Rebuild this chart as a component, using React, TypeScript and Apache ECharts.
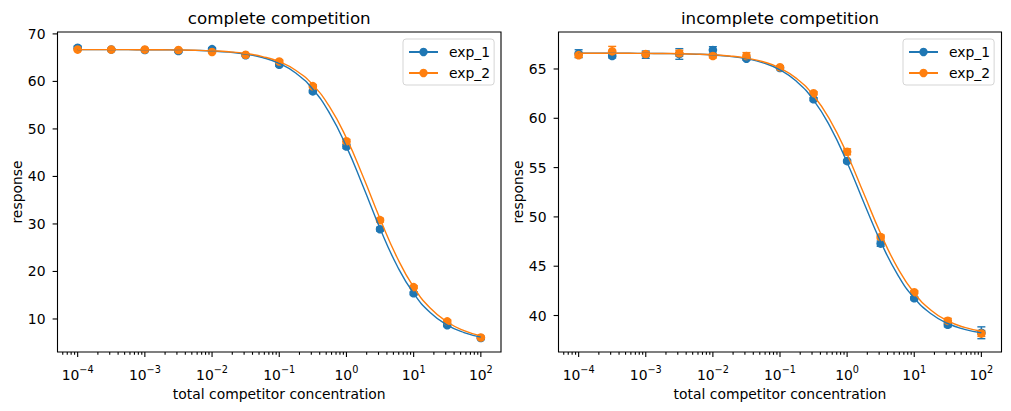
import React, { useEffect, useRef } from "react";
import * as echarts from "echarts";

const FONT = "DejaVu Sans";
const BLUE = "#1f77b4";
const ORANGE = "#ff7f0e";

// measured competitor concentrations (half-decade dilution series)
const concentrations = [1e-4, 3.162e-4, 1e-3, 3.162e-3, 1e-2, 3.162e-2, 0.1, 0.3162, 1, 3.162, 10, 31.62, 100];

// complete competition: mean responses and their errors
const completeExp1 = [67.1, 66.7, 66.6, 66.4, 66.8, 65.5, 63.5, 57.9, 46.3, 28.9, 15.4, 8.7, 6.0];
const completeExp2 = [66.7, 66.7, 66.7, 66.6, 66.2, 65.6, 64.2, 59.0, 47.4, 30.8, 16.7, 9.5, 6.1];
const completeErr1 = [0.3, 0.2, 0.2, 0.3, 0.3, 0.2, 0.3, 0.3, 0.4, 0.4, 0.3, 0.3, 0.2];
const completeErr2 = [0.2, 0.2, 0.2, 0.2, 0.2, 0.2, 0.3, 0.3, 0.4, 0.4, 0.3, 0.3, 0.2];

// incomplete competition: mean responses and their errors
const incompleteExp1 = [66.55, 66.32, 66.45, 66.52, 66.92, 66.04, 65.1, 61.93, 55.66, 47.29, 41.75, 39.06, 38.25];
const incompleteExp2 = [66.4, 66.79, 66.52, 66.59, 66.32, 66.32, 65.17, 62.54, 56.6, 47.96, 42.36, 39.46, 38.18];
const incompleteErr1 = [0.4, 0.2, 0.37, 0.54, 0.34, 0.15, 0.1, 0.15, 0.15, 0.27, 0.15, 0.2, 0.6];
const incompleteErr2 = [0.2, 0.5, 0.2, 0.3, 0.2, 0.34, 0.15, 0.15, 0.3, 0.2, 0.15, 0.25, 0.3];

// fitted curves, sampled every quarter decade
const fitConcentrations = [
  1e-4, 1.778e-4, 3.162e-4, 5.623e-4, 1e-3, 1.778e-3, 3.162e-3, 5.623e-3, 1e-2, 1.778e-2, 3.162e-2, 5.623e-2,
  0.1, 0.1778, 0.3162, 0.5623, 1, 1.778, 3.162, 5.623, 10, 17.78, 31.62, 56.23, 100,
];
const completeFit1 = [
  66.7, 66.7, 66.69, 66.68, 66.67, 66.65, 66.6, 66.53, 66.4, 66.16, 65.75, 65.03, 63.79, 61.71, 58.35, 53.27, 46.27,
  37.82, 29.05, 21.31, 15.37, 11.3, 8.71, 7.14, 6.22,
];
const completeFit2 = [
  66.7, 66.7, 66.69, 66.68, 66.67, 66.65, 66.62, 66.55, 66.43, 66.23, 65.87, 65.23, 64.14, 62.29, 59.27, 54.62, 48.06,
  39.89, 31.09, 23.05, 16.7, 12.24, 9.37, 7.55, 6.45,
];
const incompleteFit1 = [
  66.6, 66.6, 66.59, 66.59, 66.58, 66.57, 66.54, 66.5, 66.42, 66.28, 66.04, 65.62, 64.91, 63.72, 61.85, 59.11, 55.52,
  51.44, 47.48, 44.18, 41.77, 40.18, 39.19, 38.6, 38.25,
];
const incompleteFit2 = [
  66.6, 66.6, 66.59, 66.59, 66.58, 66.57, 66.55, 66.51, 66.44, 66.32, 66.1, 65.73, 65.09, 64.02, 62.31, 59.77, 56.35,
  52.34, 48.31, 44.86, 42.28, 40.54, 39.45, 38.79, 38.41,
];

// axis ticks
const majorTicksX = [1e-4, 1e-3, 1e-2, 1e-1, 1, 10, 100];
const tickDecades = [1e-5, 1e-4, 1e-3, 1e-2, 1e-1, 1, 10, 100];
const minorMultipliers = [2, 3, 4, 5, 6, 7, 8, 9];
const completeTicksY = [10, 20, 30, 40, 50, 60, 70];
const incompleteTicksY = [40, 45, 50, 55, 60, 65];

const X_MIN = Math.pow(10, -4.3);
const X_MAX = Math.pow(10, 2.3);
const MAJOR_LEN = 4.9;
const MINOR_LEN = 2.8;
const TICK_W = 1.1;

const minorTicksX = tickDecades
  .flatMap((d) => minorMultipliers.map((m) => m * d))
  .filter((v) => v > X_MIN && v < X_MAX);

const panels = [
  {
    title: "complete competition",
    exp1: completeExp1,
    exp2: completeExp2,
    err1: completeErr1,
    err2: completeErr2,
    fit1: completeFit1,
    fit2: completeFit2,
    ticksY: completeTicksY,
    yMin: 3.05,
    yMax: 70.4,
    yStep: 10,
    gridLeft: 57.5,
    gridWidth: 443.5,
    legendLeft: 403,
  },
  {
    title: "incomplete competition",
    exp1: incompleteExp1,
    exp2: incompleteExp2,
    err1: incompleteErr1,
    err2: incompleteErr2,
    fit1: incompleteFit1,
    fit2: incompleteFit2,
    ticksY: incompleteTicksY,
    yMin: 36.3,
    yMax: 68.75,
    yStep: 5,
    gridLeft: 558.5,
    gridWidth: 443,
    legendLeft: 903,
  },
];

const GRID_TOP = 32;
const GRID_HEIGHT = 320;

const powLabel = (v: number) => {
  const e = Math.log10(v);
  const r = Math.round(e);
  if (Math.abs(e - r) > 1e-6) return "";
  const exp = (r < 0 ? "\u2212" : "") + Math.abs(r);
  return `{b|10}{e|${exp}}`;
};

const errorBarRender = (color: string) => (params: any, api: any) => {
  const x = api.value(0);
  const y = api.value(1);
  const e = api.value(2);
  const top = api.coord([x, y + e]);
  const bot = api.coord([x, y - e]);
  const w = 4;
  const style = { stroke: color, lineWidth: 1.4 };
  return {
    type: "group",
    children: [
      { type: "line", shape: { x1: top[0], y1: top[1], x2: bot[0], y2: bot[1] }, style },
      { type: "line", shape: { x1: top[0] - w, y1: top[1], x2: top[0] + w, y2: top[1] }, style },
      { type: "line", shape: { x1: bot[0] - w, y1: bot[1], x2: bot[0] + w, y2: bot[1] }, style },
    ],
  };
};

const xTickRender = (params: any, api: any) => {
  const cs = params.coordSys;
  const x = api.coord([api.value(0), api.value(1)])[0];
  const len = api.value(2);
  const yb = cs.y + cs.height;
  return {
    type: "line",
    shape: { x1: x, y1: yb, x2: x, y2: yb + len },
    style: { stroke: "#000", lineWidth: TICK_W },
  };
};

const yTickRender = (params: any, api: any) => {
  const cs = params.coordSys;
  const y = api.coord([api.value(0), api.value(1)])[1];
  return {
    type: "line",
    shape: { x1: cs.x - MAJOR_LEN, y1: y, x2: cs.x, y2: y },
    style: { stroke: "#000", lineWidth: TICK_W },
  };
};

function buildOption() {
  const grid: any[] = [];
  const xAxis: any[] = [];
  const yAxis: any[] = [];
  const title: any[] = [];
  const legend: any[] = [];
  const series: any[] = [];

  panels.forEach((p, i) => {
    grid.push({
      left: p.gridLeft,
      top: GRID_TOP,
      width: p.gridWidth,
      height: GRID_HEIGHT,
      show: true,
      borderColor: "#000",
      borderWidth: 1.1,
      backgroundColor: "transparent",
      outerBoundsMode: "none",
      containLabel: false,
    });
    title.push({
      text: p.title,
      left: p.gridLeft + p.gridWidth / 2,
      top: 9,
      textAlign: "center",
      padding: 0,
      textStyle: { fontFamily: FONT, fontSize: 16.7, fontWeight: "normal", color: "#000" },
    });
    xAxis.push({
      type: "log",
      logBase: 10,
      gridIndex: i,
      min: X_MIN,
      max: X_MAX,
      name: "total competitor concentration",
      nameLocation: "middle",
      nameGap: 33,
      nameTextStyle: { fontFamily: FONT, fontSize: 13.9, color: "#000" },
      axisLine: { show: false },
      axisTick: { show: false },
      splitLine: { show: false },
      minorTick: { show: false },
      axisLabel: {
        formatter: powLabel,
        margin: 12,
        color: "#000",
        showMinLabel: false,
        showMaxLabel: false,
        rich: {
          b: { fontFamily: FONT, fontSize: 13.9, color: "#000", lineHeight: 18, verticalAlign: "bottom" },
          e: { fontFamily: FONT, fontSize: 9.7, color: "#000", lineHeight: 8, verticalAlign: "top" },
        },
      },
    });
    yAxis.push({
      type: "value",
      gridIndex: i,
      min: p.yMin,
      max: p.yMax,
      name: "response",
      nameLocation: "middle",
      nameGap: 33,
      nameTextStyle: { fontFamily: FONT, fontSize: 13.9, color: "#000" },
      axisLine: { show: false },
      axisTick: { show: false },
      splitLine: { show: false },
      axisLabel: {
        margin: 12,
        color: "#000",
        fontFamily: FONT,
        fontSize: 13.9,
        formatter: (v: number) => (Math.abs(v / p.yStep - Math.round(v / p.yStep)) < 1e-6 ? String(v) : ""),
      },
    });
    legend.push({
      orient: "vertical",
      left: p.legendLeft,
      top: 39,
      padding: [6, 4, 5, 5],
      itemGap: 7,
      itemWidth: 29,
      itemHeight: 10.5,
      backgroundColor: "rgba(255,255,255,0.8)",
      borderColor: "#d5d5d5",
      borderWidth: 1,
      borderRadius: 3,
      selectedMode: false,
      data: ["exp_1", "exp_2"],
      textStyle: { fontFamily: FONT, fontSize: 13.9, color: "#000", lineHeight: 14, padding: [0, 0, 0, 6] },
    });

    const groups = [
      { name: "exp_1", color: BLUE, values: p.exp1, errs: p.err1, fit: p.fit1 },
      { name: "exp_2", color: ORANGE, values: p.exp2, errs: p.err2, fit: p.fit2 },
    ];
    groups.forEach((g) => {
      series.push({
        name: `${g.name} error`,
        type: "custom",
        xAxisIndex: i,
        yAxisIndex: i,
        silent: true,
        clip: false,
        renderItem: errorBarRender(g.color),
        data: concentrations.map((c, k) => [c, g.values[k], g.errs[k]]),
      });
      series.push({
        name: `${g.name} data`,
        type: "scatter",
        xAxisIndex: i,
        yAxisIndex: i,
        silent: true,
        symbol: "circle",
        symbolSize: 8.6,
        itemStyle: { color: g.color, opacity: 1 },
        data: concentrations.map((c, k) => [c, g.values[k]]),
      });
      series.push({
        name: g.name,
        type: "line",
        xAxisIndex: i,
        yAxisIndex: i,
        silent: true,
        symbol: "circle",
        symbolSize: 8.6,
        showSymbol: false,
        smooth: 0.5,
        color: g.color,
        itemStyle: { color: g.color, borderWidth: 0 },
        lineStyle: { color: g.color, width: 1.4 },
        data: fitConcentrations.map((c, k) => [c, g.fit[k]]),
      });
    });

    const yMid = (p.yMin + p.yMax) / 2;
    series.push({
      name: "x ticks",
      type: "custom",
      xAxisIndex: i,
      yAxisIndex: i,
      silent: true,
      clip: false,
      renderItem: xTickRender,
      data: [
        ...majorTicksX.map((t) => [t, yMid, MAJOR_LEN]),
        ...minorTicksX.map((t) => [t, yMid, MINOR_LEN]),
      ],
    });
    series.push({
      name: "y ticks",
      type: "custom",
      xAxisIndex: i,
      yAxisIndex: i,
      silent: true,
      clip: false,
      renderItem: yTickRender,
      data: p.ticksY.map((t) => [1, t]),
    });
  });

  return {
    animation: false,
    backgroundColor: "#ffffff",
    textStyle: { fontFamily: FONT },
    title,
    legend,
    grid,
    xAxis,
    yAxis,
    series,
  };
}

export default function App() {
  const ref = useRef<HTMLDivElement>(null);
  useEffect(() => {
    const chart = echarts.init(ref.current!, null, { renderer: "svg" });
    chart.setOption(buildOption() as any);
    return () => chart.dispose();
  }, []);
  return <div ref={ref} style={{ position: "fixed", left: 0, top: 0, width: 1011, height: 411 }} />;
}
